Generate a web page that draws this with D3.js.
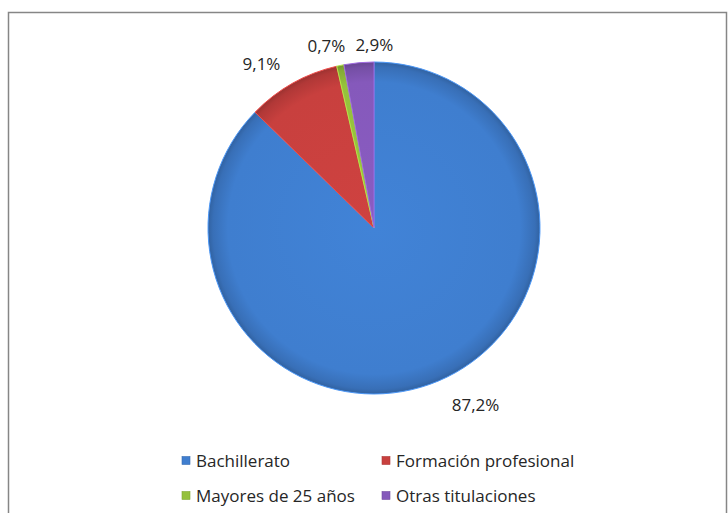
<!DOCTYPE html>
<html>
<head>
<meta charset="utf-8">
<script src="https://cdn.jsdelivr.net/npm/d3@7"></script>
<style>
  html, body { margin: 0; padding: 0; background: #fff; }
  svg { display: block; font-family: "Open Sans", "Liberation Sans", sans-serif; }
</style>
</head>
<body>
<svg id="chart" width="728" height="513"></svg>
<script>
// ---- data ----
const categories = ["Bachillerato", "Formación profesional", "Mayores de 25 años", "Otras titulaciones"];
const values = [87.2, 9.1, 0.7, 2.9];
const labels = ["87,2%", "9,1%", "0,7%", "2,9%"];
const colors = ["#3f7ecf", "#c8403e", "#95c13c", "#8559bb"];
// label nudges (best-fit placement adjustments, px)
const labelNudgeX = [20, -12, -6, 19];
const labelNudgeY = [-1, 3, 6, 8];

const svg = d3.select("#chart");

// frame
svg.append("rect")
  .attr("x", 8.5).attr("y", 12.5)
  .attr("width", 718).attr("height", 520)
  .attr("fill", "#fff").attr("stroke", "#868686").attr("stroke-width", 1.5);

const cx = 374, cy = 228, r = 166;

const pie = d3.pie().sort(null).value(d => d)(values);
const arc = d3.arc().innerRadius(0).outerRadius(r);

const defs = svg.append("defs");
colors.forEach((c, i) => {
  const g = defs.append("radialGradient")
    .attr("id", "grad" + i)
    .attr("gradientUnits", "userSpaceOnUse")
    .attr("cx", 0).attr("cy", 0).attr("r", r);
  const base = d3.color(c);
  g.append("stop").attr("offset", "0%").attr("stop-color", base.brighter(0.1));
  g.append("stop").attr("offset", "88%").attr("stop-color", base);
  g.append("stop").attr("offset", "97%").attr("stop-color", base.darker(0.35));
  g.append("stop").attr("offset", "100%").attr("stop-color", base.darker(0.7));
});

const gPie = svg.append("g").attr("transform", `translate(${cx},${cy})`);
gPie.selectAll("path.slice")
  .data(pie)
  .join("path")
  .attr("class", "slice")
  .attr("d", arc)
  .attr("fill", (d, i) => `url(#grad${i})`)
  .attr("stroke", (d, i) => d3.color(colors[i]).brighter(0.5))
  .attr("stroke-width", 1)
  .attr("stroke-linejoin", "round");

// labels
const labelR = r + 20;
const labelFont = 17;
const gLab = svg.append("g").attr("transform", `translate(${cx},${cy})`);
pie.forEach((d, i) => {
  const a = (d.startAngle + d.endAngle) / 2;
  const t = gLab.append("text")
    .attr("font-size", labelFont)
    .attr("fill", "#262626")
    .attr("text-anchor", "middle")
    .text(labels[i]);
  const w = t.node().getComputedTextLength();
  const h = 13;
  const px = Math.sin(a) * labelR + Math.sin(a) * w / 2 + labelNudgeX[i];
  const py = -Math.cos(a) * labelR - Math.cos(a) * h / 2 + labelNudgeY[i];
  t.attr("x", px).attr("y", py + h / 2);
});

// legend
const legendX = d3.scaleOrdinal().domain([0, 1]).range([182, 382]);
const legendY = d3.scaleOrdinal().domain([0, 1]).range([467, 502]);
const gLeg = svg.append("g");
categories.forEach((c, i) => {
  const col = i % 2, row = Math.floor(i / 2);
  const x = legendX(col), y = legendY(row);
  gLeg.append("rect")
    .attr("x", x).attr("y", y - 10.5)
    .attr("width", 8).attr("height", 8)
    .attr("fill", colors[i])
    .attr("stroke", d3.color(colors[i]).darker(0.4))
    .attr("stroke-width", 0.6);
  gLeg.append("text")
    .attr("x", x + 14).attr("y", y)
    .attr("font-size", 17)
    .attr("fill", "#262626")
    .text(c);
});
</script>
</body>
</html>
